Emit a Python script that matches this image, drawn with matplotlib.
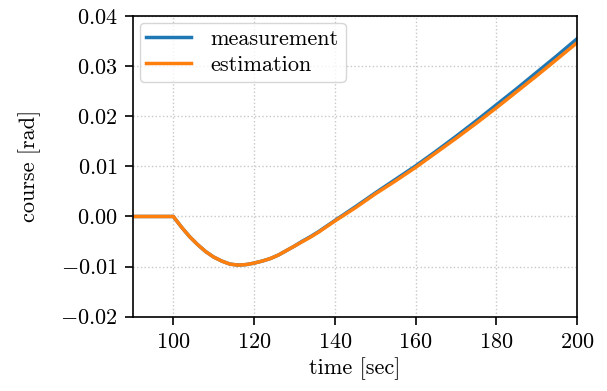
import numpy as np
import matplotlib
matplotlib.use("Agg")
import matplotlib.pyplot as plt

plt.rcParams["font.family"] = "serif"
plt.rcParams["font.serif"] = ["cmr10", "DejaVu Serif"]
plt.rcParams["mathtext.fontset"] = "cm"
plt.rcParams["axes.formatter.use_mathtext"] = True
plt.rcParams["font.size"] = 16

# values
time = [90, 100, 102, 104, 106, 108, 110, 112, 114, 116, 118, 120, 122, 124,
        126, 128, 130, 132, 134, 136, 138, 140, 145, 150, 155, 160, 165, 170,
        175, 180, 185, 190, 195, 200]
measurement = [0.0, 0.0, -0.0021, -0.0040, -0.0056, -0.0070, -0.0081, -0.0089,
               -0.0095, -0.0097, -0.0096, -0.0093, -0.0089, -0.0084, -0.0077,
               -0.0068, -0.0059, -0.0049, -0.0040, -0.0030, -0.0019, -0.0008,
               0.0019, 0.0047, 0.0074, 0.0101, 0.0130, 0.0160, 0.0191, 0.0223,
               0.0255, 0.0288, 0.0321, 0.0355]
estimation = [0.0, 0.0, -0.0021, -0.0040, -0.0056, -0.0070, -0.0081, -0.0089,
              -0.0095, -0.0097, -0.0096, -0.0093, -0.0089, -0.0084, -0.0077,
              -0.0068, -0.0059, -0.0050, -0.0041, -0.0031, -0.0020, -0.0009,
              0.0017, 0.0045, 0.0071, 0.0098, 0.0127, 0.0156, 0.0186, 0.0217,
              0.0249, 0.0281, 0.0314, 0.0347]

fig, ax = plt.subplots(figsize=(6.07, 3.91), dpi=100)
fig.subplots_adjust(left=0.219, right=0.951, top=0.959, bottom=0.19)

ax.plot(time, measurement, color="#1f77b4", lw=2.5, label="measurement")
ax.plot(time, estimation, color="#ff7f0e", lw=2.5, label="estimation")

ax.set_xlim(90, 200)
ax.set_ylim(-0.02, 0.04)
ax.set_xticks([100, 120, 140, 160, 180, 200])
ax.set_yticks(np.arange(-0.02, 0.041, 0.01))
ax.yaxis.set_major_formatter(matplotlib.ticker.FuncFormatter(
    lambda v, p: f"${v:.2f}$"))
ax.xaxis.set_major_formatter(matplotlib.ticker.FuncFormatter(
    lambda v, p: f"${v:.0f}$"))
ax.grid(True, linestyle=":", color="#c8c8c8", lw=1)
ax.tick_params(direction="out", length=6, width=1.2, pad=5)
for s in ax.spines.values():
    s.set_linewidth(1.2)
ax.set_xlabel("time [sec]", labelpad=4)
ax.set_ylabel("course [rad]", labelpad=14)
ax.legend(loc="upper left", fancybox=True, framealpha=0.8,
          handlelength=2.0, borderaxespad=0.3, borderpad=0.3,
          labelspacing=0.3, handletextpad=0.9)

fig.savefig("out.png", dpi=100)
